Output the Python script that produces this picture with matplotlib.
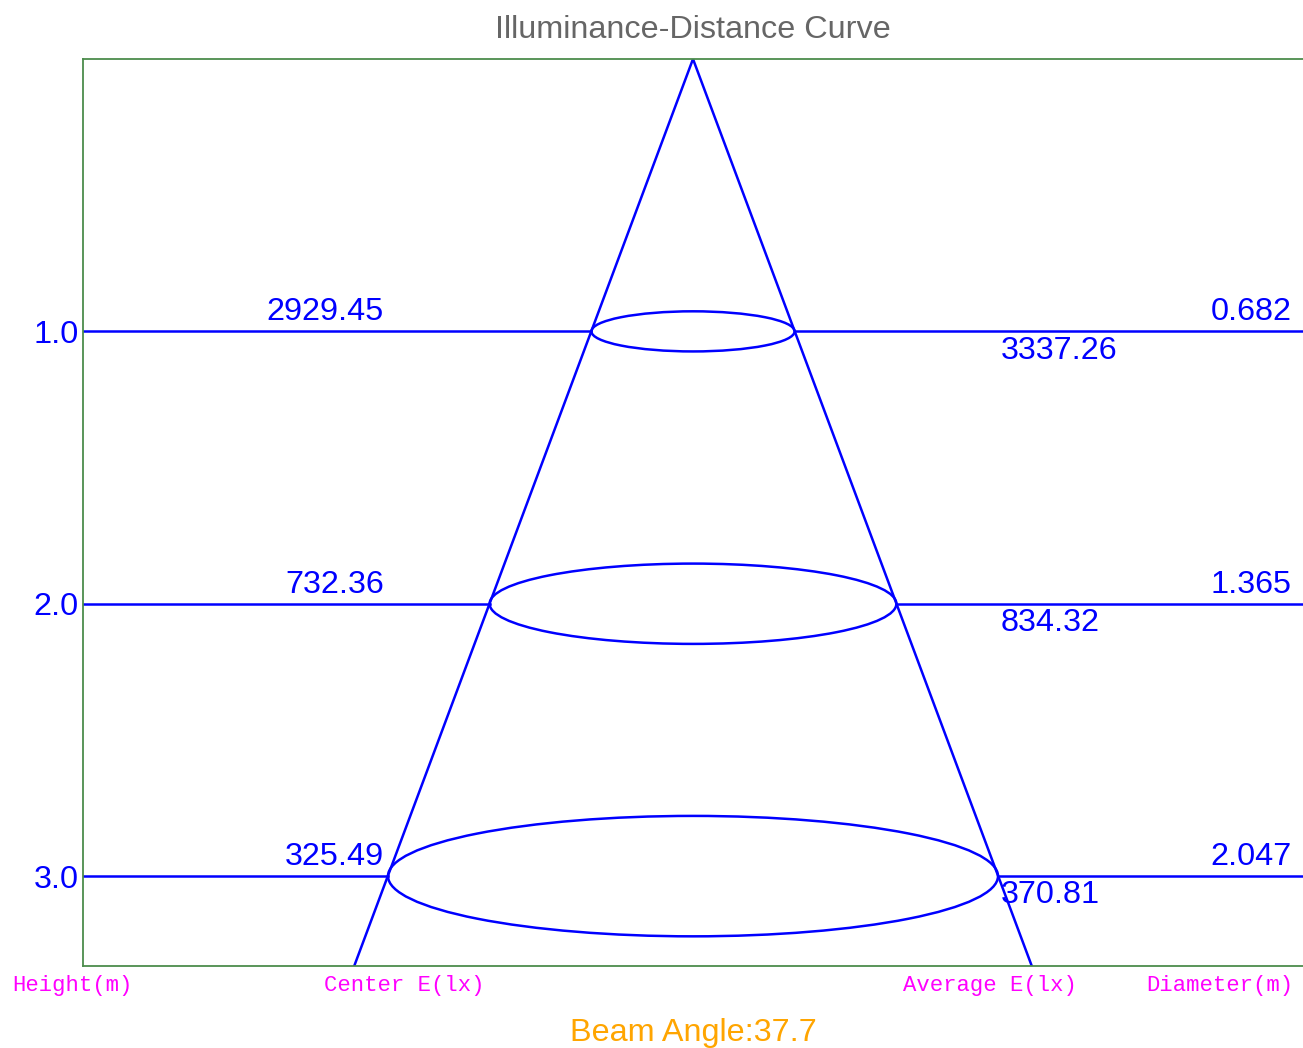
import matplotlib.pyplot as plt
import numpy as np
from matplotlib.patches import Ellipse

heights = [1.0, 2.0, 3.0]
center_lux = ["2929.45", "732.36", "325.49"]
average_lux = ["3337.26", "834.32", "370.81"]
diameters = [0.682, 1.365, 2.047]
beam_angle = 37.7

bottom_labels = ["Height(m)", "Center E(lx)", "Average E(lx)", "Diameter(m)"]

BLUE = "#0000FF"
W, H = 1303, 1048

fig = plt.figure(figsize=(W / 100, H / 100), dpi=100)
ax = fig.add_axes([83 / W, (H - 966) / H, 1220 / W, 907 / H])

xmax = max(diameters)
ybottom = 3.33
ax.set_xlim(-xmax, xmax)
ax.set_ylim(ybottom, 0)

# cone sides from the beam angle
slope = np.tan(np.radians(beam_angle / 2))
for side in (-1, 1):
    ax.plot([0, side * slope * ybottom], [0, ybottom], color=BLUE, lw=1.8)

fs = 23.3
for h, c, a, d in zip(heights, center_lux, average_lux, diameters):
    r = d / 2
    ax.add_patch(Ellipse((0, h), d, d * 0.216, fill=False, edgecolor=BLUE, lw=1.8))
    ax.plot([-xmax, -r], [h, h], color=BLUE, lw=1.8)
    ax.plot([r, xmax], [h, h], color=BLUE, lw=1.8)
    ax.annotate(c, (-xmax / 2, h), xytext=(-3, 3), textcoords="offset points",
                ha="right", va="bottom", color=BLUE, fontsize=fs, family="Liberation Sans")
    ax.annotate(a, (xmax / 2, h), xytext=(2, -3), textcoords="offset points",
                ha="left", va="top", color=BLUE, fontsize=fs, family="Liberation Sans")
    ax.annotate(f"{d:.3f}", (xmax, h), xytext=(-8, 3), textcoords="offset points",
                ha="right", va="bottom", color=BLUE, fontsize=fs, family="Liberation Sans")

ax.set_yticks(heights)
ax.set_yticklabels([f"{h:.1f}" for h in heights], color=BLUE, fontsize=fs,
                   family="Liberation Sans")
ax.tick_params(axis="y", length=0, pad=3)
ax.set_xticks([])

for name, sp in ax.spines.items():
    sp.set_color("#4C8C4C")
    sp.set_linewidth(1.3)
ax.spines["right"].set_visible(False)

fig.text(693 / W, 1 - 30 / H, "Illuminance-Distance Curve", ha="center", va="center",
         color="#666666", fontsize=fs, family="Liberation Sans")
fig.text(693 / W, 1 - 1033 / H, f"Beam Angle:{beam_angle}", ha="center", va="center",
         color="#FFA500", fontsize=fs, family="Liberation Sans")

label_x = [12, 324, 903, 1146]
for x, lab in zip(label_x, bottom_labels):
    fig.text(x / W, 1 - 985 / H, lab, ha="left", va="center", color="#FF00FF",
             fontsize=16, family="Liberation Mono")

fig.savefig("out.png", dpi=100)
